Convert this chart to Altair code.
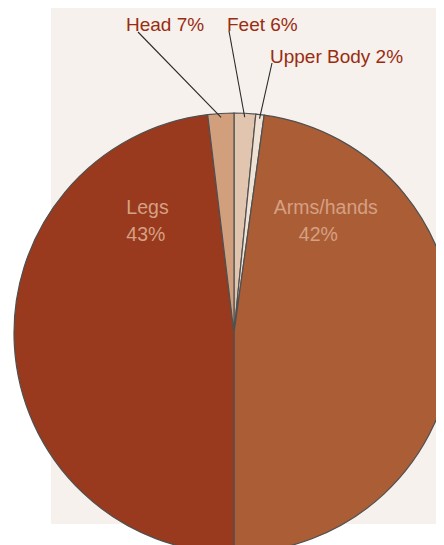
import altair as alt
import pandas as pd

# ---- data ----
categories = ["Feet", "Upper Body", "Arms/hands", "Legs", "Head"]
values = [1.58, 0.61, 47.81, 48.09, 1.91]          # share of the circle drawn
label_pcts = ["6%", "2%", "42%", "43%", "7%"]       # percentages printed on the chart
colors = ["#e2c5ae", "#efe1d3", "#ab5e36", "#993a1e", "#d29f7d"]

# ---- layout ----
W, H = 428, 537
CX, CY, R = 226, 325, 220
LEADER_R = 216
outside_layout = {  # text left x, baseline y, leader start x, leader start y
    "Head": (118, 23, 130, 24),
    "Feet": (219, 23, 221, 23),
    "Upper Body": (262, 54.5, 264, 55),
}
inside_layout = {  # (name x, name y, pct x, pct y) centred
    "Legs": (139.5, 206, 137.8, 232.5),
    "Arms/hands": (317.8, 206, 310.3, 232.5),
}

df = pd.DataFrame({"cat": categories, "value": values, "pct": label_pcts,
                   "ord": list(range(len(categories)))})

out_df = df[df["cat"].isin(outside_layout)].copy()
out_df["tx"] = [outside_layout[c][0] for c in out_df["cat"]]
out_df["ty"] = [outside_layout[c][1] for c in out_df["cat"]]
out_df["lx"] = [outside_layout[c][2] for c in out_df["cat"]]
out_df["ly"] = [outside_layout[c][3] for c in out_df["cat"]]

rows = []
for c, (nx, ny, px, py) in inside_layout.items():
    pct = df.loc[df["cat"] == c, "pct"].iloc[0]
    rows.append({"t": c, "x": nx, "y": ny})
    rows.append({"t": pct, "x": px, "y": py})
in_df = pd.DataFrame(rows)

bg = alt.Chart(pd.DataFrame({"a": [0]})).mark_rect(color="#f6f1ed").encode(
    x=alt.value(43), x2=alt.value(W), y=alt.value(0), y2=alt.value(516)
)

pie = alt.Chart(df).mark_arc(radius=R, stroke="#505050", strokeWidth=1.2).encode(
    theta=alt.Theta("value:Q", stack=True),
    order=alt.Order("ord:Q"),
    color=alt.Color("cat:N", scale=alt.Scale(domain=categories, range=colors), legend=None),
    x=alt.value(CX),
    y=alt.value(CY),
)

leaders = (
    alt.Chart(df)
    .transform_window(cum="sum(value)", sort=[alt.SortField("ord")])
    .transform_joinaggregate(total="sum(value)")
    .transform_calculate(mid="(datum.cum - datum.value/2) / datum.total * 2 * PI")
    .transform_calculate(
        ex=f"{CX} + {LEADER_R} * sin(datum.mid)",
        ey=f"{CY} - {LEADER_R} * cos(datum.mid)",
    )
    .transform_lookup(lookup="cat", from_=alt.LookupData(out_df, "cat", ["lx", "ly"]))
    .transform_filter("isValid(datum.lx)")
    .mark_rule(color="#2a2a2a", strokeWidth=1.1)
    .encode(
        x=alt.X("lx:Q", scale=None, axis=None),
        y=alt.Y("ly:Q", scale=None, axis=None),
        x2="ex:Q",
        y2="ey:Q",
    )
)

out_text = (
    alt.Chart(out_df)
    .transform_calculate(label="datum.cat + ' ' + datum.pct")
    .mark_text(align="left", baseline="alphabetic", font="Liberation Sans",
               fontSize=19, color="#9a2c10")
    .encode(x=alt.X("tx:Q", scale=None, axis=None),
            y=alt.Y("ty:Q", scale=None, axis=None),
            text="label:N")
)

in_text = (
    alt.Chart(in_df)
    .mark_text(align="center", baseline="alphabetic", font="Liberation Sans",
               fontSize=19.5, color="#d5a083")
    .encode(x=alt.X("x:Q", scale=None, axis=None),
            y=alt.Y("y:Q", scale=None, axis=None),
            text="t:N")
)

chart = (
    alt.layer(bg, pie, leaders, out_text, in_text)
    .properties(width=W, height=H, autosize=alt.AutoSizeParams(type="none"), padding=0)
    .configure_view(stroke=None)
)

chart.save("out.html", embed_options={"renderer": "svg", "actions": False})
